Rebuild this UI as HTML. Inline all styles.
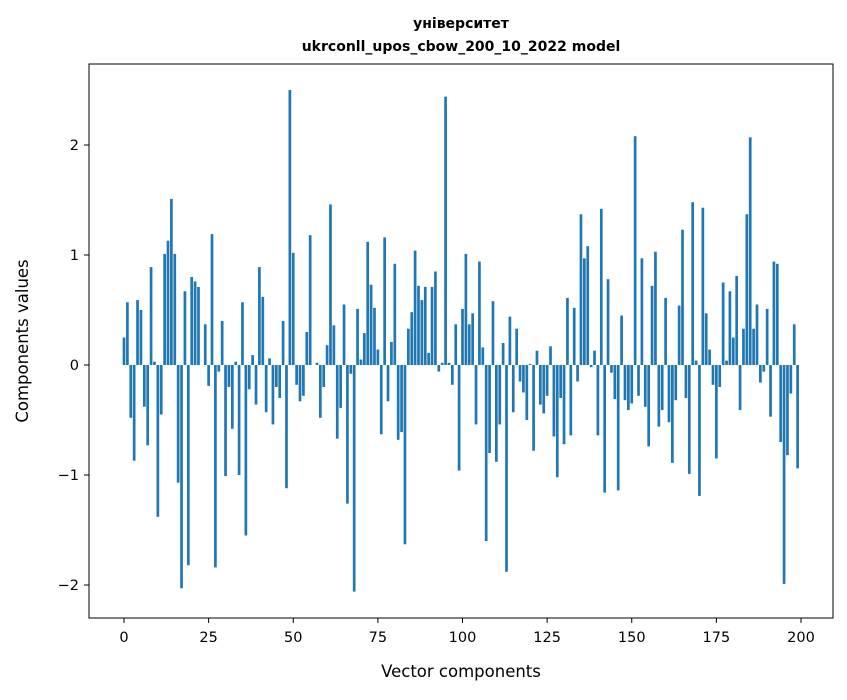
<!DOCTYPE html>
<html><head><meta charset="utf-8"><style>
body{margin:0;background:#fff;font-family:"DejaVu Sans","Liberation Sans",sans-serif;}
</style></head><body>
<svg width="847" height="696" xmlns="http://www.w3.org/2000/svg" font-family="DejaVu Sans, Liberation Sans, sans-serif">
<text x="461" y="28" text-anchor="middle" font-size="14" font-weight="bold">університет</text>
<text x="461" y="51" text-anchor="middle" font-size="14" font-weight="bold">ukrconll_upos_cbow_200_10_2022 model</text>
<g id="bars"></g>
<rect x="89" y="64" width="744" height="554" fill="none" stroke="#000" stroke-width="1"/>
<g id="xt"></g>
<g id="yt"></g>
<text x="461" y="677" text-anchor="middle" font-size="16.5">Vector components</text>
<text transform="translate(28,341) rotate(-90)" text-anchor="middle" font-size="16.5">Components values</text>
</svg>
<script>
const values=[0.25,0.57,-0.48,-0.87,0.59,0.50,-0.38,-0.73,0.89,0.03,-1.38,-0.45,1.01,1.13,1.51,1.01,-1.07,-2.03,0.67,-1.82,0.80,0.76,0.71,0.0,0.37,-0.19,1.19,-1.84,-0.06,0.40,-1.01,-0.20,-0.58,0.03,-1.00,0.57,-1.55,-0.22,0.09,-0.36,0.89,0.62,-0.43,0.06,-0.54,-0.20,-0.30,0.40,-1.12,2.50,1.02,-0.18,-0.33,-0.28,0.30,1.18,0.0,0.02,-0.48,-0.20,0.18,1.46,0.36,-0.67,-0.39,0.55,-1.26,-0.08,-2.06,0.51,0.05,0.29,1.12,0.73,0.52,0.14,-0.63,1.16,-0.33,0.21,0.92,-0.68,-0.61,-1.63,0.33,0.48,1.04,0.72,0.59,0.71,0.11,0.71,0.85,-0.06,0.02,2.44,0.02,-0.18,0.37,-0.96,0.51,1.01,0.37,0.47,-0.54,0.94,0.16,-1.60,-0.80,0.58,-0.88,-0.54,0.20,-1.88,0.44,-0.43,0.33,-0.15,-0.25,-0.50,0.01,-0.78,0.13,-0.36,-0.44,-0.28,0.17,-0.65,-1.02,-0.30,-0.72,0.61,-0.64,0.52,-0.15,1.37,0.97,1.08,-0.02,0.13,-0.64,1.42,-1.16,0.78,-0.07,-0.31,-1.14,0.45,-0.32,-0.41,-0.35,2.08,-0.28,0.97,-0.38,-0.74,0.72,1.03,-0.56,-0.41,0.61,-0.52,-0.89,-0.32,0.54,1.23,-0.30,-0.99,1.48,0.04,-1.19,1.43,0.47,0.14,-0.18,-0.85,-0.20,0.75,0.04,0.67,0.25,0.81,-0.41,0.33,1.37,2.07,0.33,0.55,-0.16,-0.06,0.51,-0.47,0.94,0.92,-0.70,-1.99,-0.82,-0.26,0.37,-0.94];
const xTicks=[0,25,50,75,100,125,150,175,200];
const yTicks=[-2,-1,0,1,2];
const yTickLabels=["\u22122","\u22121","0","1","2"];
const NS="http://www.w3.org/2000/svg";
const X=v=>124+v*3.385, Y=v=>365-v*110;
const bars=document.getElementById('bars');
values.forEach((v,i)=>{
 const r=document.createElementNS(NS,'rect');
 
 
 r.setAttribute('x',X(i-0.4));r.setAttribute('width',3.385*0.8);
 r.setAttribute('y',Math.min(Y(v),Y(0)));r.setAttribute('height',Math.abs(Y(v)-Y(0)));
 r.setAttribute('fill','#1f77b4');bars.appendChild(r);
});
const xt=document.getElementById('xt');
xTicks.forEach(t=>{
 const l=document.createElementNS(NS,'line');
 
 
 l.setAttribute('x1',X(t));l.setAttribute('x2',X(t));l.setAttribute('y1',618);l.setAttribute('y2',623);l.setAttribute('stroke','#000');xt.appendChild(l);
 const s=document.createElementNS(NS,'text');
 
 
 s.setAttribute('x',X(t));s.setAttribute('y',642);s.setAttribute('text-anchor','middle');s.setAttribute('font-size','14.5');s.textContent=t;xt.appendChild(s);
});
const yt=document.getElementById('yt');
yTicks.forEach((t,i)=>{
 const l=document.createElementNS(NS,'line');
 
 
 l.setAttribute('x1',84);l.setAttribute('x2',89);l.setAttribute('y1',Y(t));l.setAttribute('y2',Y(t));l.setAttribute('stroke','#000');yt.appendChild(l);
 const s=document.createElementNS(NS,'text');
 
 
 s.setAttribute('x',79);s.setAttribute('y',Y(t)+5);s.setAttribute('text-anchor','end');s.setAttribute('font-size','14.5');s.textContent=yTickLabels[i];yt.appendChild(s);
});
</script>
</body></html>
